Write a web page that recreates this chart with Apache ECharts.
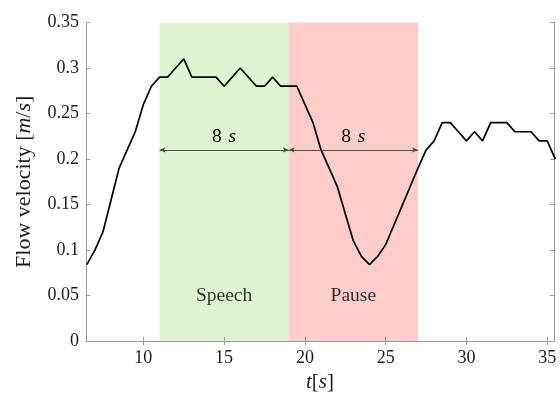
<!DOCTYPE html>
<html>
<head>
<meta charset="utf-8">
<script src="https://cdn.jsdelivr.net/npm/echarts@6/dist/echarts.min.js"></script>
<style>html,body{margin:0;padding:0;background:#fff}#c{width:560px;height:398px}</style>
</head>
<body>
<div id="c"></div>
<script>
var times = [6.5,7,7.5,8,8.5,9,9.5,10,10.5,11,11.5,12,12.5,13,13.5,14,14.5,15,15.5,16,16.5,17,17.5,18,18.5,19,19.5,20,20.5,21,21.5,22,22.5,23,23.5,24,24.5,25,25.5,26,26.5,27,27.5,28,28.5,29,29.5,30,30.5,31,31.5,32,32.5,33,33.5,34,34.5,35,35.5];
var velocity = [0.084,0.10,0.12,0.155,0.19,0.21,0.23,0.26,0.28,0.29,0.29,0.30,0.31,0.29,0.29,0.29,0.29,0.28,0.29,0.30,0.29,0.28,0.28,0.29,0.28,0.28,0.28,0.26,0.24,0.21,0.19,0.17,0.14,0.11,0.093,0.084,0.093,0.106,0.127,0.148,0.169,0.19,0.21,0.22,0.24,0.24,0.23,0.22,0.23,0.22,0.24,0.24,0.24,0.23,0.23,0.23,0.22,0.22,0.20];
var xTicks = [10,15,20,25,30,35];
var yTicks = [0,0.05,0.1,0.15,0.2,0.25,0.3,0.35];
var phases = [
  {name:'Speech', start:11, end:19, color:'rgba(127,215,75,0.25)'},
  {name:'Pause',  start:19, end:27, color:'rgba(255,0,0,0.2)'}
];
var arrowY = 0.21;
var phaseLabelY = 0.05;
var durationLabel = '8';

var FONT = 'Liberation Serif';
var gray = '#9a9a9a';
var chart = echarts.init(document.getElementById('c'), null, {renderer:'canvas'});

var xMin = 6.45, xMax = 35.42;
function xAxisBase(pos, labels) {
  return {
    type:'value', position:pos, min:xMin, max:xMax,
    axisLine:{show:true, lineStyle:{color:gray, width:1}},
    axisTick:{show:true, inside:true, length:4, lineStyle:{color:gray}, customValues:xTicks},
    axisLabel:{show:labels, customValues:xTicks, color:'#1a1a1a', fontFamily:FONT, fontSize:18, margin:8},
    splitLine:{show:false}
  };
}
function yAxisBase(pos, labels) {
  return {
    type:'value', position:pos, min:0, max:0.35, interval:0.05,
    axisLine:{show:true, lineStyle:{color:gray, width:1}},
    axisTick:{show:true, inside:true, length:4, lineStyle:{color:gray}},
    axisLabel:{show:labels, color:'#1a1a1a', fontFamily:FONT, fontSize:18, margin:7,
      formatter:function(v){return String(Math.round(v*100)/100);}},
    splitLine:{show:false}
  };
}
var xa0 = xAxisBase('bottom', true);
xa0.name = '{i|t}[{i|s}]';
xa0.nameLocation = 'middle';
xa0.nameGap = 30;
xa0.nameTextStyle = {color:'#1a1a1a', fontFamily:FONT, fontSize:21, rich:{i:{fontStyle:'italic', fontFamily:FONT, fontSize:21, color:'#1a1a1a'}}};
var xa1 = xAxisBase('top', false);
var ya0 = yAxisBase('left', true);
ya0.name = 'Flow velocity [{i|m}/{i|s}]';
ya0.nameLocation = 'middle';
ya0.nameRotate = 90;
ya0.nameGap = 51;
ya0.nameTextStyle = {color:'#1a1a1a', fontFamily:FONT, fontSize:22, rich:{i:{fontStyle:'italic', fontFamily:FONT, fontSize:22, color:'#1a1a1a'}}};
var ya1 = yAxisBase('right', false);

var lineData = times.map(function(t,i){return [t, velocity[i]];});

chart.setOption({
  animation:false,
  backgroundColor:'#fff',
  grid:{left:86, right:6, top:22.5, bottom:48.7, containLabel:false},
  xAxis:[xa0, xa1],
  yAxis:[ya0, ya1],
  series:[
    {
      type:'line', data:lineData, z:2, showSymbol:false, clip:true,
      lineStyle:{color:'#000', width:1.7}, silent:true
    },
    {
      type:'line', data:[[times[0], velocity[0]]], z:3, showSymbol:false, silent:true,
      lineStyle:{opacity:0},
      markArea:{
        silent:true,
        data:phases.map(function(p){return [{xAxis:p.start, itemStyle:{color:p.color}}, {xAxis:p.end}];})
      }
    },
    {
      type:'scatter', z:5, symbolSize:0, silent:true,
      data:phases.map(function(p){return {value:[(p.start+p.end)/2, phaseLabelY], name:p.name};}),
      label:{show:true, position:'inside', formatter:'{b}', color:'#000', fontFamily:FONT, fontSize:19.5},
      markLine:{
        silent:true,
        symbol:['arrow','arrow'], symbolSize:[4,6],
        lineStyle:{color:'#444', width:0.9, type:'solid'},
        label:{show:true, position:'middle', distance:3,
          formatter:'{n|' + durationLabel + '}  {i|s}',
          rich:{n:{fontFamily:FONT, fontSize:19.5, color:'#000'}, i:{fontFamily:FONT, fontStyle:'italic', fontSize:19.5, color:'#000'}}},
        data:phases.map(function(p){return [{coord:[p.start, arrowY]}, {coord:[p.end, arrowY]}];})
      }
    }
  ]
});
</script>
</body>
</html>
